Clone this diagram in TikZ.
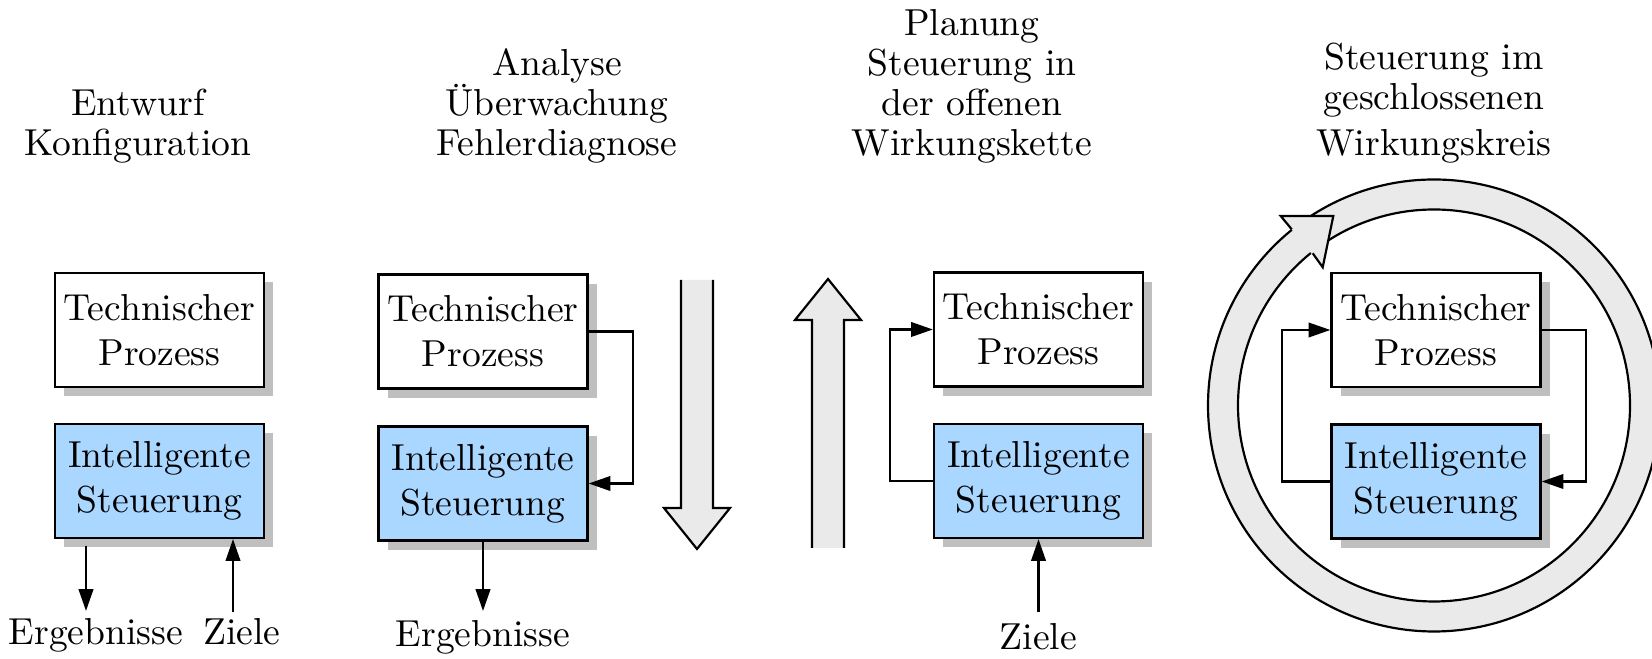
\documentclass[tikz,border=0pt]{standalone}
\usetikzlibrary{arrows.meta,shadows}
\definecolor{ctrlblue}{RGB}{170,215,255}
\definecolor{shadowgray}{RGB}{191,191,191}
\definecolor{bandgray}{RGB}{234,234,234}
\begin{document}
\begin{tikzpicture}[x=0.2755pt, y=-0.2755pt,
  block/.style={draw, line width=0.6pt, minimum width=57.6pt, minimum height=31.4pt,
    inner sep=0pt, align=center, font=\fontsize{10.35}{12.4}\selectfont,
    drop shadow={shadow xshift=2.5pt, shadow yshift=-2.5pt, fill=shadowgray, opacity=1}},
  proc/.style={block, fill=white},
  ctrl/.style={block, fill=ctrlblue},
  grouptitle/.style={anchor=south, inner sep=0pt, align=center, font=\fontsize{10.35}{11}\selectfont},
  iolabel/.style={anchor=base, inner sep=0pt, font=\fontsize{10.35}{12}\selectfont},
  flow/.style={line width=0.6pt, -{Triangle[length=6pt,width=4pt]}},
  edgeline/.style={line width=0.6pt, line join=miter}]

\useasboundingbox (0,0) rectangle (1652,659);

% ---- titles
\node[grouptitle] (t1) at (138,163.7) {Entwurf\\Konfiguration};
\node[grouptitle] (t2) at (557,163.7) {Analyse\\Überwachung\\Fehlerdiagnose};
\node[grouptitle] (t3) at (972,163.7) {Planung\\Steuerung in\\der offenen\\Wirkungskette};
\node[grouptitle] (t4) at (1434,163.7) {Steuerung im\\geschlossenen\\[1.6pt]Wirkungskreis};

% ---- 1: design / configuration
\node[proc] (tp1) at (159.5,330) {Technischer\\Prozess};
\node[ctrl] (is1) at (159.5,481) {Intelligente\\Steuerung};
\node[iolabel] (erg1) at (96,645) {Ergebnisse};
\node[iolabel] (ziel1) at (242,645) {Ziele};
\coordinate (erg1src) at (86,546);
\coordinate (erg1top) at (86,611);
\coordinate (ziel1bot) at (233,612);
\draw[flow] (erg1src) -- (erg1top);
\draw[flow] (ziel1bot) -- (ziel1bot |- is1.south);

% ---- 2: analysis / monitoring
\node[proc] (tp2) at (483,331.5) {Technischer\\Prozess};
\node[ctrl] (is2) at (483,483.5) {Intelligente\\Steuerung};
\node[iolabel] (erg2) at (483,647) {Ergebnisse};
\coordinate (erg2top) at (483,611);
\draw[flow] (tp2.east) -- ++(44,0) |- (is2.east);
\draw[flow] (is2.south) -- (erg2top);

% broad downward arrow
\fill[bandgray] (681,280) -- (681,508) -- (664,508) -- (697,549) -- (730,508) -- (713,508) -- (713,280) -- cycle;
\draw[edgeline] (681,280) -- (681,508) -- (664,508) -- (697,549) -- (730,508) -- (713,508) -- (713,280);

% broad upward arrow
\fill[bandgray] (812,548) -- (812,320) -- (795,320) -- (828,279) -- (861,320) -- (844,320) -- (844,548) -- cycle;
\draw[edgeline] (812,548) -- (812,320) -- (795,320) -- (828,279) -- (861,320) -- (844,320) -- (844,548);

% ---- 3: open-loop control
\node[proc] (tp3) at (1038.5,329.5) {Technischer\\Prozess};
\node[ctrl] (is3) at (1038.5,481) {Intelligente\\Steuerung};
\node[iolabel] (ziel3) at (1038.5,650) {Ziele};
\coordinate (ziel3bot) at (1038.5,612);
\draw[flow] (is3.west) -- ++(-43,0) |- (tp3.west);
\draw[flow] (ziel3bot) -- (is3.south);

% ---- 4: closed-loop control, circular band arrow
\fill[bandgray, even odd rule] (1434,405.5) circle[radius=226] (1434,405.5) circle[radius=196];
\draw[edgeline] (1434,405.5) circle[radius=226];
\draw[edgeline] (1434,405.5) circle[radius=196];
\fill[bandgray] (1280.7,216) -- (1333.3,216) -- (1322.7,267.3) -- cycle;
\draw[edgeline] (1291.7,229.3) -- (1280.7,216) -- (1333.3,216) -- (1322.7,267.3) -- (1312.7,253.3);

\node[proc] (tp4) at (1436,330) {Technischer\\Prozess};
\node[ctrl] (is4) at (1436,481.5) {Intelligente\\Steuerung};
\draw[flow] (is4.west) -- ++(-48,0) |- (tp4.west);
\draw[flow] (tp4.east) -- ++(44,0) |- (is4.east);
\end{tikzpicture}
\end{document}
